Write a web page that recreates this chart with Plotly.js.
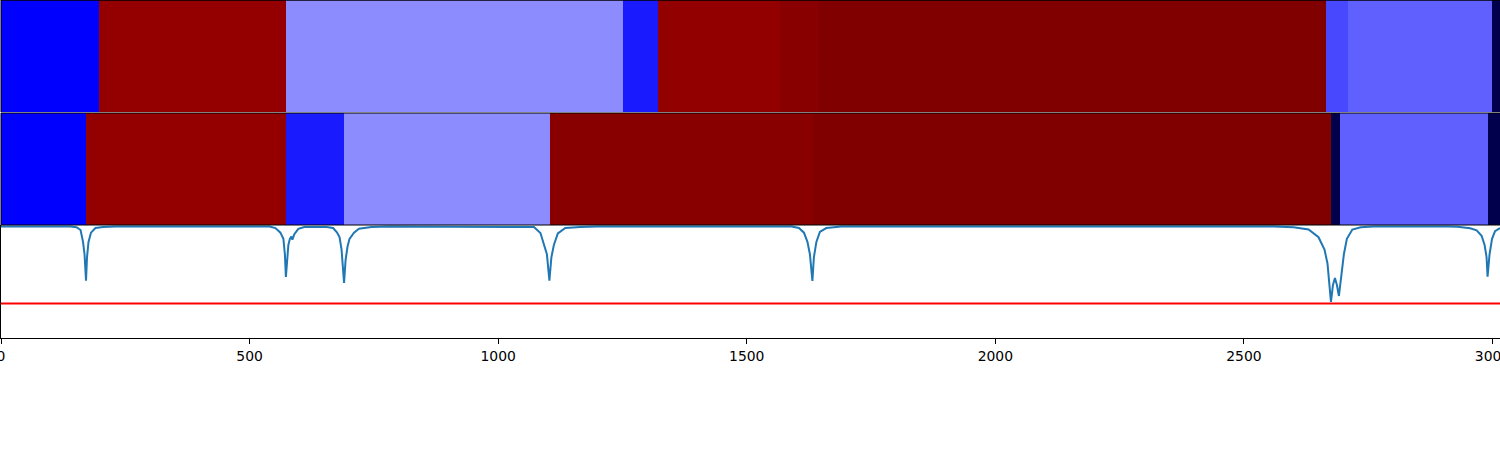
<!DOCTYPE html>
<html>
<head>
<meta charset="utf-8">
<script src="https://cdn.plot.ly/plotly-3.0.1.min.js"></script>
<style>html,body{margin:0;padding:0;background:#fff;}#chart{width:1500px;height:450px;}</style>
</head>
<body>
<div id="chart"></div>
<script>
// ---- data ----
var xMin = 0, xMax = 3015;
// segment row A (top heatmap)
var edgesA  = [0, 198, 574, 1252, 1322, 1566, 1646, 2665, 2709, 2999, 3015];
var valuesA = [-0.5, 0.92, -0.226, -0.449, 0.925, 0.968, 1.0, -0.359, -0.312, -1.0];
// segment row B (middle heatmap)
var edgesB  = [0, 171, 574, 690, 1105, 1634, 2675, 2693, 2991, 3015];
var valuesB = [-0.5, 0.92, -0.449, -0.226, 0.97, 1.0, -1.0, -0.312, -1.0];
// score curve (bottom panel)
var scoreX = [0,140,152,160,165,168,171,173,176,181,190,205,230,
  540,552,562,568,571,573,575,578,581,584,586,590,598,610,
  655,668,676,681,685,690,693,697,701,705,710,720,745,780,
  1060,1072,1085,1093,1098,1103,1107,1112,1120,1135,1165,1200,
  1590,1605,1615,1622,1627,1632,1635,1640,1647,1660,1690,
  2560,2600,2630,2650,2662,2668,2675,2679,2683,2687,2691,2696,2701,2707,2718,2735,2760,
  2910,2930,2955,2968,2978,2984,2988,2990,2994,2999,3005,3015];
var scoreY = [1.0,1.0,0.995,0.977,0.90,0.82,0.648,0.80,0.90,0.96,0.99,0.997,1.0,
  1.0,0.99,0.96,0.92,0.82,0.672,0.78,0.88,0.92,0.935,0.915,0.95,0.985,0.997,
  0.997,0.99,0.96,0.93,0.85,0.633,0.78,0.87,0.92,0.935,0.96,0.985,0.997,1.0,
  1.0,0.997,0.958,0.88,0.82,0.648,0.80,0.88,0.955,0.99,0.997,1.0,
  1.0,0.99,0.96,0.90,0.82,0.646,0.80,0.90,0.965,0.99,1.0,
  1.0,0.995,0.98,0.93,0.85,0.76,0.51,0.62,0.666,0.62,0.549,0.70,0.82,0.92,0.98,0.995,1.0,
  1.0,0.998,0.988,0.975,0.94,0.88,0.80,0.674,0.82,0.92,0.97,0.99];
var threshold = 0.5;
var tickVals = [0, 500, 1000, 1500, 2000, 2500, 3000];
var tickText = ["0", "500", "1000", "1500", "2000", "2500", "3000"];

var seismic = [[0,'rgb(0,0,77)'],[0.25,'rgb(0,0,255)'],[0.5,'rgb(255,255,255)'],[0.75,'rgb(255,0,0)'],[1,'rgb(128,0,0)']];

var traces = [
  {type:'heatmap', x: edgesA, z:[valuesA], colorscale: seismic, zmin:-1, zmax:1, showscale:false, xaxis:'x', yaxis:'y3', hoverinfo:'skip'},
  {type:'heatmap', x: edgesB, z:[valuesB], colorscale: seismic, zmin:-1, zmax:1, showscale:false, xaxis:'x', yaxis:'y2', hoverinfo:'skip'},
  {type:'scatter', mode:'lines', x: scoreX, y: scoreY, line:{color:'#1f77b4', width:2}, xaxis:'x', yaxis:'y', hoverinfo:'skip'},
  {type:'scatter', mode:'lines', x:[xMin, xMax], y:[threshold, threshold], line:{color:'red', width:2}, xaxis:'x', yaxis:'y', hoverinfo:'skip'}
];

var H = 338;
var d3 = [0, 113/H];
var d2 = [113/H, 225/H];
var d1 = [226/H, 1];

var layout = {
  width:1500, height:450,
  margin:{l:1, r:0, t:0, b:112, pad:0},
  paper_bgcolor:'#fff', plot_bgcolor:'#fff',
  showlegend:false,
  xaxis:{range:[xMin, xMax], tickvals:tickVals, ticktext:tickText, ticks:'outside', ticklen:5, tickwidth:1, tickcolor:'#000',
         showgrid:false, zeroline:false, showline:true, linecolor:'#000', linewidth:1, ticklabeloverflow:'allow',
         tickfont:{family:'DejaVu Sans', size:13.9, color:'#000'}, anchor:'y'},
  yaxis:{domain:d3, range:[0.276, 1.0097], showticklabels:false, ticks:'', showgrid:false, zeroline:false,
         showline:true, linecolor:'#000', linewidth:1},
  yaxis2:{domain:d2, showticklabels:false, ticks:'', showgrid:false, zeroline:false, fixedrange:true},
  yaxis3:{domain:d1, showticklabels:false, ticks:'', showgrid:false, zeroline:false, fixedrange:true},
  shapes:[
    {type:'rect', xref:'x domain', yref:'y2 domain', x0:0, x1:1.01, y0:0, y1:1, line:{color:'#000', width:1}, fillcolor:'rgba(0,0,0,0)'},
    {type:'line', xref:'x domain', yref:'y3 domain', x0:0, x1:1.01, y0:1, y1:1, line:{color:'#000', width:1.5}},
    {type:'line', xref:'x domain', yref:'y3 domain', x0:0, x1:0, y0:0, y1:1, line:{color:'#000', width:1}}
  ]
};

Plotly.newPlot('chart', traces, layout, {staticPlot:true, displayModeBar:false});
</script>
</body>
</html>
